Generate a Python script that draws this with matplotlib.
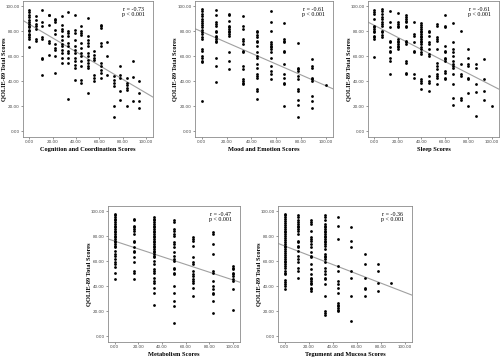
import matplotlib.pyplot as plt
import numpy as np

# QOLIE-89 total scores vs. symptom domain scores
cog_levels = [0, 5.56, 11.1, 16.7, 22.2, 27.8, 33.3, 38.9, 44.4, 50, 55.6,
              61.1, 66.7, 72.2, 77.8, 83.3, 88.9, 94.4]
cog_values = [
    [97, 95, 93, 91, 89, 87, 86, 84, 83, 81, 80, 78, 77, 75, 74, 67],
    [92, 89, 86, 84, 82, 74, 72],
    [97, 87, 84, 75, 74, 58.5, 58, 45],
    [93, 92.5, 85, 72, 70.5, 61],
    [90, 89, 87, 81, 78, 70, 66.5, 65, 60, 46.5],
    [92, 85, 82, 80, 76, 73, 70, 68, 65, 62.5, 58.5, 54.5],
    [95, 80, 78.5, 76, 70.5, 68, 64, 62.5, 58.5, 54.5, 26],
    [93, 81, 78.5, 73, 68, 65, 62.5, 58.5, 56, 53, 50.5, 41],
    [84, 80, 78.5, 77, 70.5, 66.5, 62.5, 60, 56, 52, 41, 38.5],
    [90.5, 76, 73, 70.5, 68, 62.5, 60, 57, 54.5, 52, 50.5, 30.5],
    [64, 61, 58.5, 57, 45, 42.5, 40],
    [85, 84, 82.5, 70.5, 68, 54.5, 52, 49, 46.5, 42.5],
    [71, 60.5, 45],
    [44, 41, 38.5, 36, 20, 11.5],
    [52.5, 45, 42.5, 32, 25],
    [42.5, 38.5, 37, 35, 33, 20.5],
    [56, 43.5, 24.5],
    [40, 31, 24, 18.5],
]

mood_levels = [0, 11.1, 22.2, 33.3, 44.4, 55.6, 66.7, 77.8, 88.9, 100]
mood_values = [
    [98, 95.7, 93.8, 92, 89.8, 88.5, 86.6, 85, 83, 81.2, 79.6, 77.7, 75, 73.7,
     65.7, 64.3, 60.3, 59, 56.3, 55.5, 24],
    [96.5, 92.5, 87, 85.8, 84.5, 80.4, 79, 76.4, 75, 73.7, 72.4, 71, 59, 52.3, 39.4],
    [93.8, 92.5, 88.5, 84.5, 83, 81.8, 80.4, 79, 77.7, 76.4, 63, 56.3, 50.1],
    [92, 84.5, 81.8, 73.7, 72.4, 69.7, 64.3, 63, 52.3, 49.6, 41.6, 40.2, 38.9, 37.5],
    [80.4, 79, 77, 75, 72.4, 71, 68.4, 63, 60.3, 59, 53.6, 51, 45.6, 44.2, 42.9,
     33.5, 32.2, 26],
    [95.7, 87, 80, 71, 69.7, 68.4, 67, 65.7, 63, 59, 52.3, 48.3, 45.6, 41.6],
    [86.6, 73.7, 72.4, 71, 64.3, 63, 53.6, 45.6, 42.9, 38.9, 37.5, 20.6],
    [70.2, 51, 49.6, 48.3, 44.2, 41.6, 33.5, 32.2, 25.5, 21.4, 11.5],
    [57.6, 52.3, 51, 42.9, 41.6, 40.2, 28.2, 24, 18.8],
    [36.7],
]

sleep_levels = [0, 6.67, 13.3, 20, 26.7, 33.3, 40, 46.7, 53.3, 60, 66.7,
                73.3, 80, 86.7, 93.3, 100]
sleep_values = [
    [96.5, 95.2, 93.8, 89.8, 84.5, 83, 81.8, 80.4, 79, 76.4, 75, 73.7, 59.8],
    [97.9, 95.7, 93.8, 91.2, 89.8, 87.7, 85.8, 84.5, 80.4, 79, 77, 75],
    [95.7, 87.1, 83, 72.4, 71, 67, 64.3, 63, 59, 56.3, 45.6],
    [94.6, 87.1, 85.8, 84.5, 83, 73.7, 72.4, 71, 69.7, 68.4, 67, 65.7],
    [92.5, 91.2, 89.8, 88.5, 87.1, 84.5, 83, 72.4, 71, 69.7, 56.3, 55, 46.9, 45.6],
    [87.7, 77.7, 76.4, 71, 64.3, 63, 45.6, 42.9],
    [86.6, 85, 83, 81.8, 80.4, 79, 77.7, 76.4, 75, 73.7, 72.4, 71, 69.7, 67,
     65.7, 63, 61.7, 41.6, 40.2, 38.9, 34],
    [80.4, 79, 76.4, 71, 69.7, 65.7, 61.7, 60.3, 44.2, 40.2, 38.9, 32.2],
    [85.8, 84.5, 75, 73.7, 72.4, 65.7, 55, 52.3, 49.6, 45.6, 44.2, 42.9, 37.5],
    [92.5, 84.5, 83, 68.4, 64.3, 63, 59, 57.6, 56.3, 48.3, 46.9, 42.9, 41.6],
    [86.6, 71, 65.7, 63, 60.3, 56.3, 53.6, 52.3, 51, 45.6, 37.5, 26.8, 21.4],
    [80.4, 53.6, 45.6, 44.2, 26.8, 25.5],
    [65.7, 59, 53.6, 52.3, 42.9, 41.6, 30.8, 20.1],
    [53.6, 51, 37.5, 31.4, 12.1],
    [57.6, 41.6, 32.2, 25.5],
    [20.6],
]

metab_levels = [0, 16.7, 33.3, 50, 66.7, 83.3, 100]
metab_values = [
    [97.9, 96.5, 95.2, 93.8, 92.5, 91.2, 89.8, 88.5, 87.1, 85.8, 84.5, 83.1,
     81.8, 80.4, 79.1, 77.7, 76.4, 75, 73.7, 72.4, 71, 68.4, 65.7, 64.3, 61.7,
     59, 57.6, 55.5, 50.4, 45.6],
    [93.8, 92.5, 88.5, 87.1, 85.8, 84.5, 81.8, 76.4, 75, 71, 68.4, 67, 63, 59,
     52.3, 50.9, 45.6],
    [95.2, 93.8, 92.5, 91.2, 89.8, 88.5, 87.1, 85.8, 84.5, 83.1, 81.8, 80.4,
     79.1, 77.7, 76.4, 75, 73.7, 72.4, 71, 69.7, 68.4, 67, 65.7, 64.3, 63, 60.3,
     57.6, 53.6, 52.3, 50.9, 46.9, 44.2, 42.9, 38.9, 34.9, 24.9],
    [92.5, 91.2, 85.8, 84.5, 81.8, 80.4, 75, 73.7, 71, 67, 64.3, 61.7, 60.3,
     55, 53.6, 50.9, 49.6, 40.2, 34.9, 28.2, 24.1, 10.7],
    [79, 77.7, 76.4, 72.4, 63, 59, 57.6, 52.3, 49.6, 48.3, 45.6, 44.2, 42.9,
     38.9, 32.2],
    [83.1, 81.8, 73.7, 65.7, 52.3, 50.9, 44.2, 40.2, 37.5, 34.9, 33.5, 28.2, 18.8],
    [56.3, 55, 53.6, 50.9, 49.6, 48.3, 45.6, 44.2, 37.5, 21.4],
]

teg_levels = [0, 11.1, 22.2, 33.3, 44.4, 55.6, 66.7, 77.8, 88.9]
teg_values = [
    [98, 96.5, 95, 93.5, 92, 90.5, 89, 87.5, 86, 84.5, 83, 81.5, 80, 78.5, 77,
     75.5, 74, 72.5, 71, 69.5, 68, 66.5, 65, 63.5, 62, 60.5, 59, 57.5, 56, 54.5,
     52, 51, 49.5, 45, 43.5, 42, 40.5, 38],
    [96.5, 95.2, 92.5, 91.2, 89.8, 88.5, 87.1, 85.8, 84.5, 81.8, 76.4, 75, 72.4,
     71, 68.4, 64.3, 61.7, 59, 55, 52.3, 46.9],
    [92.5, 91.2, 89.8, 84.5, 79.1, 77.7, 76.4, 73.7, 71, 67, 64.3, 63, 57.6,
     53.6, 49.6, 46.9, 45.6, 44.2, 42.9, 41.6, 38.9, 37.5, 36.2],
    [96.5, 95.2, 92.5, 89.8, 88.5, 87.1, 85.8, 84.5, 83.1, 81.8, 80.4, 79.1,
     77.7, 76.4, 75, 73.7, 72.4, 69.7, 65.7, 64.3, 63, 61.7, 59, 55, 52.3, 49.6,
     46.9, 45.6, 41.6, 32.2, 20.1, 18.8, 17.4],
    [95.2, 88.5, 77.7, 56.3, 52.3, 44.2, 41.6, 38.9, 34.9, 26.8, 25.5, 24.1,
     22.8, 21.4, 20.1],
    [87.1, 76.4, 71, 52.3, 46.9, 32.2, 12.1],
    [65.7, 57.6, 46.9, 38.9, 37.5, 32.2],
    [57.6, 52.3, 42.9, 36.2],
    [42.9],
]

# fitted lines as drawn in the figure: (intercept, slope)
fits = [(85.5, -0.548), (79.6, -0.43), (84.6, -0.48), (76.1, -0.31), (72.2, -0.37)]
r_labels = ["r = -0.73", "r = -0.61", "r = -0.61", "r = -0.47", "r = -0.36"]
x_labels = ["Cognition and Coordination Scores", "Mood and Emotion Scores",
            "Sleep Scores", "Metabolism Scores", "Tegument and Mucosa Scores"]
panels = [(cog_levels, cog_values), (mood_levels, mood_values),
          (sleep_levels, sleep_values), (metab_levels, metab_values),
          (teg_levels, teg_values)]

# axes boxes in figure fraction [left, bottom, width, height]
boxes = [
    [0.046, 0.618, 0.260, 0.379],
    [0.390, 0.618, 0.276, 0.379],
    [0.736, 0.618, 0.262, 0.379],
    [0.216, 0.047, 0.264, 0.379],
    [0.556, 0.047, 0.268, 0.379],
]

serif = "Liberation Serif"
fig = plt.figure(figsize=(5.0, 3.59), dpi=100)

for i, (levels, values) in enumerate(panels):
    ax = fig.add_axes(boxes[i])
    xs = np.concatenate([[lv] * len(v) for lv, v in zip(levels, values)])
    ys = np.concatenate([np.asarray(v, dtype=float) for v in values])
    ax.scatter(xs, ys, s=4, color="black", linewidths=0, zorder=3)

    xlim = (-5.5, 106)
    b0, b1 = fits[i]
    xl = np.array(xlim)
    ax.plot(xl, b0 + b1 * xl, color="#a0a0a0", lw=0.8, zorder=2)

    ax.set_xlim(xlim)
    ax.set_ylim(-4.5, 104)
    ax.set_xticks(np.arange(0, 101, 20))
    ax.set_yticks(np.arange(0, 101, 20))
    ax.set_xticklabels([f"{t:.2f}" for t in range(0, 101, 20)])
    ax.set_yticklabels([f"{t:.2f}" for t in range(0, 101, 20)])
    ax.tick_params(labelsize=3.0, length=1.5, width=0.4, pad=0.8,
                   colors="#444444")
    for sp in ax.spines.values():
        sp.set_color("#8a8a8a")
        sp.set_linewidth(0.6)

    ax.set_xlabel(x_labels[i], fontfamily=serif, fontweight="bold",
                  fontsize=4.6, labelpad=2)
    ax.set_ylabel("QOLIE-89 Total Scores", fontfamily=serif,
                  fontweight="bold", fontsize=4.6)
    ax.yaxis.set_label_coords(-0.125, 0.5)
    ax.text(0.94, 0.955, r_labels[i] + "\np < 0.001", transform=ax.transAxes,
            ha="right", va="top", multialignment="center",
            fontfamily=serif, fontsize=4.3, linespacing=1.05)

fig.savefig("out.png", dpi=100)
